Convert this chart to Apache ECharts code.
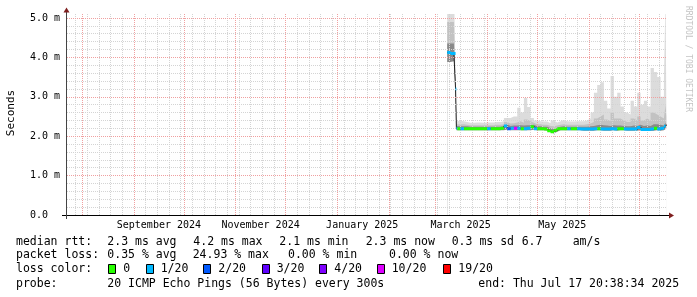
<!DOCTYPE html>
<html><head><meta charset="utf-8">
<script src="https://cdn.jsdelivr.net/npm/echarts@6/dist/echarts.min.js"></script>
<style>html,body{margin:0;padding:0;background:#fff}#c{width:697px;height:297px}</style>
</head><body><div id="c"></div>
<script>
// ---------------- data ----------------
const sampleTimes = [
 '2025-03-08','2025-03-10','2025-03-12','2025-03-13','2025-03-13 12:00','2025-03-14',
 '2025-03-16','2025-03-18','2025-03-20','2025-03-22','2025-03-24','2025-03-26','2025-03-28','2025-03-30',
 '2025-04-01','2025-04-03','2025-04-05','2025-04-07','2025-04-09','2025-04-11','2025-04-13','2025-04-15','2025-04-17','2025-04-19','2025-04-21','2025-04-23','2025-04-25','2025-04-27','2025-04-29',
 '2025-05-01','2025-05-03','2025-05-05','2025-05-07','2025-05-09','2025-05-11','2025-05-13','2025-05-15','2025-05-17','2025-05-19','2025-05-21','2025-05-23','2025-05-25','2025-05-27','2025-05-29','2025-05-31',
 '2025-06-02','2025-06-04','2025-06-06','2025-06-08','2025-06-10','2025-06-12','2025-06-14','2025-06-16','2025-06-18','2025-06-20','2025-06-22','2025-06-24','2025-06-26','2025-06-28','2025-06-30',
 '2025-07-02','2025-07-04','2025-07-06','2025-07-08','2025-07-10','2025-07-12','2025-07-14','2025-07-16',
 '2025-07-17 00:00','2025-07-17 10:00','2025-07-17 20:00'
];
// median rtt in ms
const medianRtt = [
 4.12,4.12,4.10,4.10,3.20,2.20,
 2.19,2.19,2.19,2.19,2.19,2.19,2.19,2.19,
 2.19,2.19,2.19,2.19,2.19,2.20,2.26,2.19,2.20,2.20,2.20,2.19,2.19,2.20,2.24,
 2.19,2.19,2.19,2.18,2.14,2.11,2.15,2.19,2.19,2.19,2.19,2.19,2.19,2.19,2.18,2.18,
 2.18,2.18,2.19,2.19,2.18,2.18,2.18,2.19,2.18,2.19,2.19,2.18,2.18,2.18,2.18,
 2.22,2.17,2.17,2.17,2.18,2.20,2.18,2.20,
 2.25,2.28,2.28
];
// lost pings out of 20
const lossCount = [
 1,1,1,1,1,1,
 0,1,0,0,0,0,0,0,
 0,1,0,0,0,0,1,2,1,10,1,0,1,1,0,
 1,0,0,0,0,0,0,0,0,0,1,0,0,1,1,1,
 1,1,1,0,1,1,1,1,1,0,0,1,1,1,1,
 1,1,1,1,1,0,1,1,
 1,1,1
];
// smoke (ping spread) in ms
const smokeMin = [
 3.88,3.88,3.90,3.90,3.15,2.15,
 2.15,2.15,2.15,2.15,2.15,2.15,2.15,2.15,
 2.15,2.15,2.15,2.15,2.15,2.15,2.17,2.15,2.15,2.15,2.15,2.15,2.15,2.15,2.16,
 2.15,2.15,2.15,2.14,2.10,2.07,2.11,2.15,2.15,2.15,2.15,2.15,2.15,2.15,2.14,2.14,
 2.14,2.14,2.15,2.15,2.14,2.14,2.14,2.15,2.14,2.15,2.15,2.14,2.14,2.14,2.14,
 2.15,2.13,2.13,2.13,2.14,2.15,2.14,2.15,
 2.17,2.20,2.20
];
const smokeMid = [
 4.35,4.35,4.35,4.35,3.25,2.26,
 2.25,2.25,2.25,2.24,2.24,2.24,2.24,2.24,
 2.24,2.24,2.24,2.24,2.24,2.25,2.30,2.26,2.27,2.27,2.28,2.27,2.28,2.28,2.29,
 2.25,2.25,2.24,2.24,2.20,2.18,2.21,2.24,2.25,2.24,2.24,2.24,2.24,2.24,2.24,2.24,
 2.25,2.26,2.28,2.29,2.28,2.27,2.26,2.28,2.27,2.27,2.26,2.25,2.25,2.27,2.26,
 2.29,2.26,2.27,2.26,2.30,2.30,2.29,2.27,
 2.30,2.35,2.32
];
const smokeUpper = [
 4.90,4.90,4.90,4.90,3.30,2.30,
 2.30,2.30,2.29,2.28,2.28,2.28,2.28,2.28,
 2.28,2.28,2.28,2.29,2.29,2.30,2.36,2.32,2.33,2.35,2.38,2.34,2.42,2.38,2.34,
 2.30,2.30,2.29,2.29,2.26,2.25,2.27,2.29,2.30,2.29,2.29,2.29,2.29,2.29,2.29,2.30,
 2.32,2.36,2.45,2.50,2.55,2.42,2.38,2.60,2.45,2.45,2.40,2.36,2.36,2.45,2.40,
 2.50,2.40,2.45,2.40,2.60,2.55,2.50,2.45,
 2.50,2.80,2.50
];
const smokeMax = [
 6.00,6.00,6.00,6.00,3.35,2.38,
 2.39,2.38,2.36,2.34,2.34,2.35,2.35,2.34,
 2.35,2.35,2.35,2.36,2.36,2.38,2.46,2.46,2.50,2.50,2.72,2.60,2.97,2.74,2.46,
 2.40,2.38,2.37,2.37,2.33,2.40,2.35,2.38,2.41,2.38,2.37,2.37,2.38,2.38,2.38,2.40,
 2.45,2.60,3.10,3.30,3.37,2.90,2.70,3.53,3.00,3.10,2.75,2.60,2.55,2.90,2.75,
 3.10,2.80,2.90,2.75,3.73,3.63,3.50,3.00,
 3.40,5.60,3.00
];
const endTimeStr = '2025-07-17 20:38:34';
const spanDays = 360;
const monthStarts = ['2024-08-01','2024-09-01','2024-10-01','2024-11-01','2024-12-01','2025-01-01','2025-02-01','2025-03-01','2025-04-01','2025-05-01','2025-06-01','2025-07-01'];
const firstWeekLine = '2024-07-28';
const monthLabelTimes = ['2024-09-16','2024-11-16','2025-01-16','2025-03-16','2025-05-16'];
const monthLabels = ['September 2024','November 2024','January 2025','March 2025','May 2025'];
const yMajorTicks = [1,2,3,4,5];
const yMinorStep = 0.2;
const yMax = 5.1;
const lossLevels = [0,1,2,3,4,10,19];
const lossColors = ['#26ff00','#00b8ff','#0059ff','#5e00ff','#7e00ff','#dd00ff','#ff0000'];
const lossNames = ['0','1/20','2/20','3/20','4/20','10/20','19/20'];
const statsRtt = ['2.3 ms avg','4.2 ms max','2.1 ms min','2.3 ms now','0.3 ms sd','6.7','am/s'];
const statsLoss = ['0.35 % avg','24.93 % max','0.00 % min','0.00 % now'];
const probeText = '20 ICMP Echo Pings (56 Bytes) every 300s';
const endText = 'end: Thu Jul 17 20:38:34 2025';

// ---------------- helpers ----------------
const T = s => { const [d, t = '00:00'] = s.split(' '); const [Y, M, D] = d.split('-').map(Number);
  const [h, mi, se = 0] = t.split(':').map(Number); return Date.UTC(Y, M - 1, D, h, mi, se); };
const DAY = 86400000;
const endTime = T(endTimeStr);
const startTime = endTime - spanDays * DAY;
const xs = sampleTimes.map(T);

const weekLines = [];
for (let t = T(firstWeekLine); t < endTime; t += 7 * DAY) weekLines.push(t);
const yMinor = [];
for (let k = 1; k * yMinorStep < 5.05; k++) { const v = +(k * yMinorStep).toFixed(1); if (Math.abs(v - Math.round(v)) > 1e-6) yMinor.push(v); }

const minorStyle = { color: '#d4d4d4', width: 1, type: [1, 1] };
const majorStyle = { color: '#f0a0a0', width: 1, type: [1, 1] };
const gridLines = []
  .concat(weekLines.map(t => ({ xAxis: t, lineStyle: minorStyle })))
  .concat(yMinor.map(v => ({ yAxis: v, lineStyle: minorStyle })))
  .concat(monthStarts.map(s => ({ xAxis: T(s), lineStyle: majorStyle })))
  .concat(yMajorTicks.map(v => ({ yAxis: v, lineStyle: majorStyle })));

// smoke layers: painted from 0 upward, later layers on top (light -> dark -> white base)
const areaLayer = (name, vals, color) => ({
  type: 'line', name, step: 'start', showSymbol: false, symbol: 'none', z: 2,
  data: xs.map((t, i) => [t, vals[i]]), lineStyle: { width: 0 },
  areaStyle: { color, opacity: 1, origin: 'start' }, silent: true, animation: false
});

const series = [
  areaLayer('smokeMax', smokeMax, '#dcdcdc'),
  areaLayer('smokeUpper', smokeUpper, '#c2c2c2'),
  areaLayer('smokeMid', smokeMid, '#8a8a8a'),
  areaLayer('smokeMin', smokeMin, '#ffffff'),
  { type: 'line', name: 'grid', data: [[startTime, 0]], symbol: 'none', lineStyle: { width: 0 }, z: 3,
    silent: true, animation: false,
    markLine: { symbol: ['none', 'none'], silent: true, animation: false, label: { show: false },
      emphasis: { disabled: true }, data: gridLines } },
  { type: 'line', name: 'median', step: 'start', symbol: 'none', showSymbol: false, z: 4,
    data: xs.map((t, i) => [t, medianRtt[i]]), lineStyle: { color: '#202020', width: 1 }, silent: true, animation: false }
];
lossLevels.forEach((lv, k) => {
  const d = [];
  for (let i = 1; i < xs.length; i++) {
    if (lossCount[i] === lv) { d.push([xs[i - 1], medianRtt[i]], [xs[i], medianRtt[i]], [xs[i], null]); }
  }
  series.push({ type: 'line', name: 'loss ' + lossNames[k], data: d, symbol: 'none', showSymbol: false, z: 5,
    connectNulls: false, lineStyle: { color: lossColors[k], width: 3, cap: 'butt' }, silent: true, animation: false });
});

// ---------------- layout / decoration ----------------
const FONT = '"DejaVu Sans Mono", monospace';
const LFS = 11.5;
const txt = (x, y, text, opt = {}) => ({ type: 'text', x, y, silent: true, rotation: opt.rot || 0,
  style: { text, fill: opt.fill || '#000', font: (opt.size || LFS) + 'px ' + FONT,
    align: opt.align || 'left', verticalAlign: 'middle' } });
const L1 = 242, L2 = 255.5, L3 = 269.5, L4 = 284;
const rttX = [107.3, 193.3, 279.3, 365.7, 451.7, 521.7, 572.7];
const lossX = [107.3, 192.7, 288, 389];
const boxX = [108.3, 146, 203.3, 261.7, 319.3, 376.7, 442.7];
const boxLabelX = [123.3, 160.7, 218.3, 276.7, 334.3, 391.7, 458.3];

const graphic = [
  { type: 'line', silent: true, shape: { x1: 62, y1: 215.5, x2: 670, y2: 215.5 }, style: { stroke: '#000', lineWidth: 1 } },
  { type: 'line', silent: true, shape: { x1: 66.5, y1: 219, x2: 66.5, y2: 12 }, style: { stroke: '#444', lineWidth: 1 } },
  { type: 'polygon', silent: true, shape: { points: [[669, 212.5], [674, 215.5], [669, 218.5]] }, style: { fill: '#7f1f1f' } },
  { type: 'polygon', silent: true, shape: { points: [[63.5, 12.5], [66.5, 7.5], [69.5, 12.5]] }, style: { fill: '#7f1f1f' } },
  txt(11, 113, 'Seconds', { size: 11, rot: Math.PI / 2, align: 'center' }),
  txt(688, 59, 'RRDTOOL / TOBI OETIKER', { size: 8, rot: -Math.PI / 2, align: 'center', fill: '#c4c4c4' }),
  txt(16, L1, 'median rtt:'),
  txt(16, L2, 'packet loss:'),
  txt(16, L3, 'loss color:'),
  txt(16, L4, 'probe:'),
  txt(107.3, L4, probeText),
  txt(478.3, L4, endText)
];
statsRtt.forEach((s, i) => graphic.push(txt(rttX[i], L1, s)));
statsLoss.forEach((s, i) => graphic.push(txt(lossX[i], L2, s)));
lossColors.forEach((c, i) => {
  graphic.push({ type: 'rect', silent: true, shape: { x: Math.round(boxX[i]) + 0.5, y: 264.5, width: 7, height: 9 },
    style: { fill: c, stroke: '#000', lineWidth: 1 } });
  graphic.push(txt(boxLabelX[i], L3, lossNames[i]));
});

const chart = echarts.init(document.getElementById('c'), null, { renderer: 'canvas' });
chart.setOption({
  animation: false,
  backgroundColor: '#ffffff',
  textStyle: { fontFamily: FONT },
  grid: { left: 67, right: 30, top: 14, bottom: 82, containLabel: false, outerBoundsMode: 'none' },
  xAxis: {
    type: 'value', min: startTime, max: endTime,
    axisLine: { show: false }, axisTick: { show: false }, splitLine: { show: false },
    axisLabel: { customValues: monthLabelTimes.map(T), color: '#000', fontSize: 10, fontFamily: FONT, margin: 5,
      formatter: v => { const i = monthLabelTimes.map(T).indexOf(v); return i >= 0 ? monthLabels[i] : ''; } }
  },
  yAxis: {
    type: 'value', min: 0, max: yMax, interval: 1,
    axisLine: { show: false }, axisTick: { show: false }, splitLine: { show: false },
    axisLabel: { color: '#000', fontSize: 10, fontFamily: FONT, align: 'left', margin: 37, showMaxLabel: false,
      formatter: v => (Math.abs(v - Math.round(v)) > 1e-6 ? '' : (v === 0 ? '0.0' : v.toFixed(1) + ' m')) }
  },
  series,
  graphic
});
</script></body></html>
